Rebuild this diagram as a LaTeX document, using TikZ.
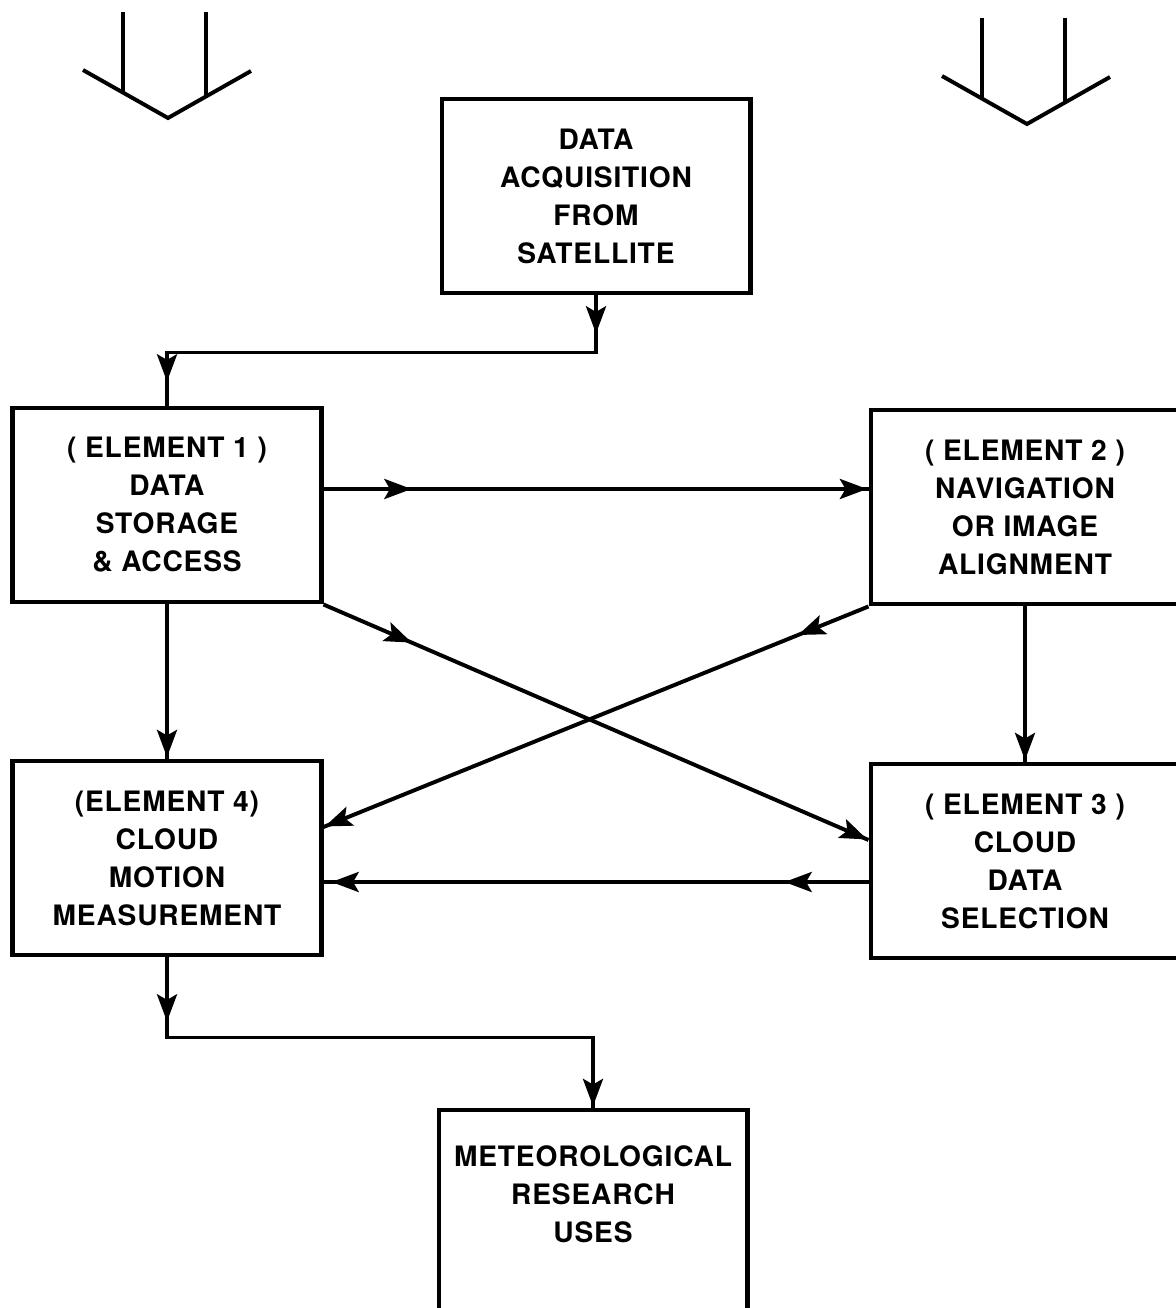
\documentclass[tikz,border=0pt]{standalone}
\usepackage{fontspec}
\newfontfamily\heros[LetterSpace=3]{TeX Gyre Heros}
\usepackage{tikz}
\usetikzlibrary{arrows.meta,decorations.markings}
\tikzset{
    HD/.tip={Stealth[length=0.68cm,width=0.5cm,inset=0.14cm]},
    BX/.style ={rectangle,minimum width = 7.7cm, minimum height = 4.85cm, draw, line width=3.5pt,
        align=center, inner sep=0pt, font=\heros\bfseries\fontsize{20}{27}\selectfont},
    LN/.style ={line width=2.8pt},
    MA/.style ={postaction={decorate,decoration={markings,mark=at position #1 with {\arrow{HD}}}}}
}
\begin{document}
\begin{tikzpicture}[x=0.025cm,y=-0.025cm]
    \clip (0,0) rectangle (1176,1308);
    \fill[white] (0,0) rectangle (1176,1308);
    % antenna marks
    \foreach \x/\y in {168/118,1027/124} {
        \draw[LN] (\x-85,\y-48) -- (\x,\y) -- (\x+83,\y-47);
        \draw[LN] (\x-45,\y-25) -- (\x-45,\y-106) (\x+38,\y-21) -- (\x+38,\y-106);
    }
    \node[BX](0) at (596,196) {DATA\\ACQUISITION\\FROM\\SATELLITE};
    \node[BX](1) at (167,505) {( ELEMENT 1 )\\DATA\\STORAGE\\\& ACCESS};
    \node[BX](2) at (1025,507) {( ELEMENT 2 )\\NAVIGATION\\OR IMAGE\\ALIGNMENT};
    \node[BX](3) at (1025,861) {( ELEMENT 3 )\\CLOUD\\DATA\\SELECTION};
    \node[BX](4) at (167,858) {(ELEMENT 4)\\CLOUD\\MOTION\\MEASUREMENT};
    \node[BX,minimum height=5.15cm](5) at (593,1213) {METEOROLOGICAL\\RESEARCH\\USES\\~};
    % connectors
    \draw[LN,MA=0.95cm,MA=-0.6cm] (0.south) -- ++(0,57) -| (1.north);
    \draw[LN,MA=2.2cm,MA=-1pt] ([yshift=0.4cm]1.east) -- ([yshift=0.4cm]1.east -| 2.west);
    \draw[LN,MA=2.4cm,MA=-1pt] (1.south east) -- ([yshift=0.525cm]3.west);
    \draw[LN,MA=1.9cm,MA=-1pt] (2.south west) -- ([yshift=0.775cm]4.east);
    \draw[LN,MA=2.1cm,MA=-0.2cm] ([yshift=-0.525cm]3.west) -- ([yshift=-0.525cm]3.west -| 4.east);
    \draw[LN,MA=-1pt] (1.south) -- (4.north);
    \draw[LN,MA=-1pt] (2.south) -- (3.north);
    \draw[LN,MA=1.6cm,MA=-1pt] (4.south) -- ++(0,80) -| (5.north);
\end{tikzpicture}
\end{document}
